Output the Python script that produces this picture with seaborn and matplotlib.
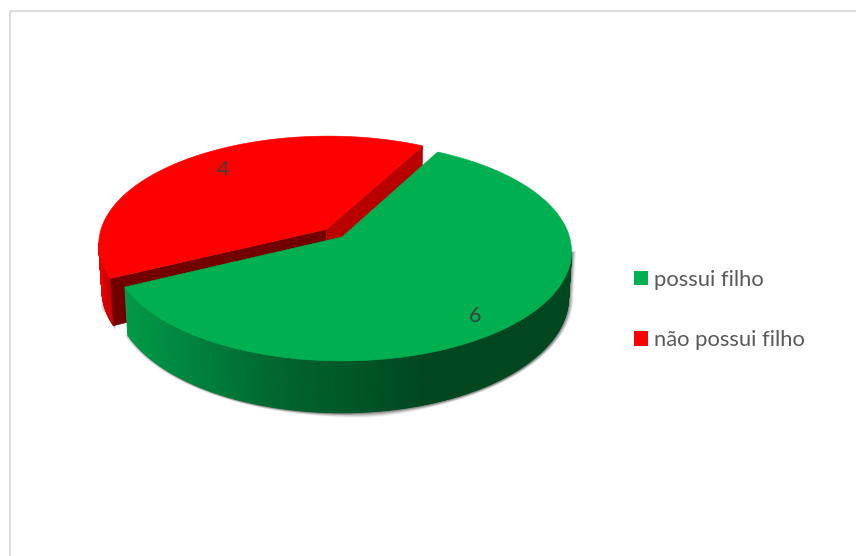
import numpy as np
import matplotlib
matplotlib.use("Agg")
import matplotlib.pyplot as plt
from matplotlib.collections import PolyCollection
from matplotlib.patches import Patch, Polygon, Rectangle
import seaborn as sns

categories = ["possui filho", "não possui filho"]
values = [6, 4]
top_colors = ["#00B050", "#FF0000"]

sns.set_theme(style="white")
plt.rcParams["font.family"] = ["Lato", "DejaVu Sans"]

fig, ax = plt.subplots(figsize=(8.56, 5.56), dpi=100)
ax.set_position([0, 0, 1, 1])
ax.set_xlim(0, 856)
ax.set_ylim(556, 0)
ax.axis("off")

# Chart frame
ax.add_patch(Rectangle((10.5, 10.5), 860, 560, fill=False, ec="#D9D9D9", lw=1.3, zorder=0))

# Projection of the tilted pie (with perspective) onto the canvas
X0, Y0 = 342.0, 237.0
A, B, K = 227.5, 107.5, 0.1325
DEPTH, BASE_SHRINK = 45.0, 0.987
START = 28.0     # clockwise from twelve o'clock
EXPLODE = 0.10


def project(u, v, base=False):
    s = 1.0 / (1.0 + K * v)
    if base:
        return X0 + A * u * s * BASE_SHRINK, Y0 - B * v * s + DEPTH * s
    return X0 + A * u * s, Y0 - B * v * s


def rim(a0, a1, offset=(0.0, 0.0), n=360):
    t = np.radians(np.linspace(a0, a1, n))
    return np.sin(t) + offset[0], np.cos(t) + offset[1]


def stack(*xy):
    return np.column_stack(xy)


total = sum(values)
spans = [v / total * 360.0 for v in values]
green_a0, green_a1 = START, START + spans[0]
red_a0, red_a1 = green_a1, green_a1 + spans[1]
mid = np.radians((red_a0 + red_a1) / 2)
red_off = (EXPLODE * np.sin(mid), EXPLODE * np.cos(mid))


def soft_shadow(points, zorder):
    # Layered translucent outlines, growing away from the outline's centre
    c = points.mean(axis=0)
    d = points - c
    unit = d / np.hypot(d[:, 0], d[:, 1])[:, None]
    for grow, alpha in [(4.5, 0.06), (3.5, 0.10), (2.5, 0.15), (1.5, 0.22), (0.5, 0.30)]:
        ax.add_patch(Polygon(points + unit * grow + np.array([1.0, 1.0]), closed=True,
                             fc="#404040", ec="none", alpha=alpha, zorder=zorder))


def wall(tx, ty, bx, by, colours, zorder):
    polys = [[(tx[i], ty[i]), (tx[i + 1], ty[i + 1]), (bx[i + 1], by[i + 1]), (bx[i], by[i])]
             for i in range(len(tx) - 1)]
    ax.add_collection(PolyCollection(polys, facecolors=colours, edgecolors=colours,
                                     linewidths=0.7, zorder=zorder))


# Red slice, pulled away from the centre
ru, rv = rim(red_a0, red_a1, red_off)
tx, ty = project(ru, rv)
bx, by = project(ru, rv, base=True)
red_apex = project(*red_off)
red_apex_b = project(*red_off, base=True)

# Only the stretch of outer wall before the leftmost point faces the viewer
vis = int(np.argmin(tx)) + 1
soft_shadow(stack(np.r_[bx[:vis], tx[vis]], np.r_[by[:vis], ty[vis]]), 1)
red_ramp = sns.blend_palette(["#C80000", "#EE0000"], vis)
wall(tx[:vis + 1], ty[:vis + 1], bx[:vis + 1], by[:vis + 1], red_ramp, 2)

# Cut faces of the red slice
ax.add_patch(Polygon([red_apex, (tx[0], ty[0]), (bx[0], by[0]), red_apex_b],
                     fc="#730000", ec="#730000", lw=0.4, zorder=3))
ax.add_patch(Polygon([red_apex, (tx[-1], ty[-1]), (bx[-1], by[-1]), red_apex_b],
                     fc="#B90000", ec="#B90000", lw=0.4, zorder=3))
ax.add_patch(Polygon(np.vstack([[red_apex], stack(tx, ty)]),
                     fc=top_colors[1], ec=top_colors[1], lw=0.4, zorder=4))

# Green slice: drop shadow, shaded outer wall, flat top
gu, gv = rim(green_a0, green_a1)
gtx, gty = project(gu, gv)
gbx, gby = project(gu, gv, base=True)
apex = project(0.0, 0.0)

first = int(np.argmax(gtx))
soft_shadow(stack(np.r_[gtx[first], gbx[first:]], np.r_[gty[first], gby[first:]]), 5)

green_ramp = sns.blend_palette(["#009A48", "#00662F", "#00461F"], 256)
wall_t = np.clip((gtx[first:-1] - 125.0) / (430.0 - 125.0), 0, 1)
wall(gtx[first:], gty[first:], gbx[first:], gby[first:],
     [green_ramp[int(t * 255)] for t in wall_t], 6)
ax.add_patch(Polygon(np.vstack([[apex], stack(gtx, gty)]),
                     fc=top_colors[0], ec=top_colors[0], lw=0.4, zorder=7))

# Value labels
ax.text(475, 316, str(values[0]), color="#404040", fontsize=15.5, ha="center", va="center", zorder=8)
ax.text(223, 170, str(values[1]), color="#404040", fontsize=15.5, ha="center", va="center", zorder=8)

# Legend
handles = [Patch(fc=c, ec="none") for c in top_colors]
leg = ax.legend(handles, categories, loc="center left", bbox_to_anchor=(614, 310),
                bbox_transform=ax.transData, frameon=False, fontsize=15.8,
                handlelength=0.64, handleheight=0.64, handletextpad=0.28,
                labelspacing=1.86, labelcolor="#595959")

fig.savefig("out.png", dpi=100)
